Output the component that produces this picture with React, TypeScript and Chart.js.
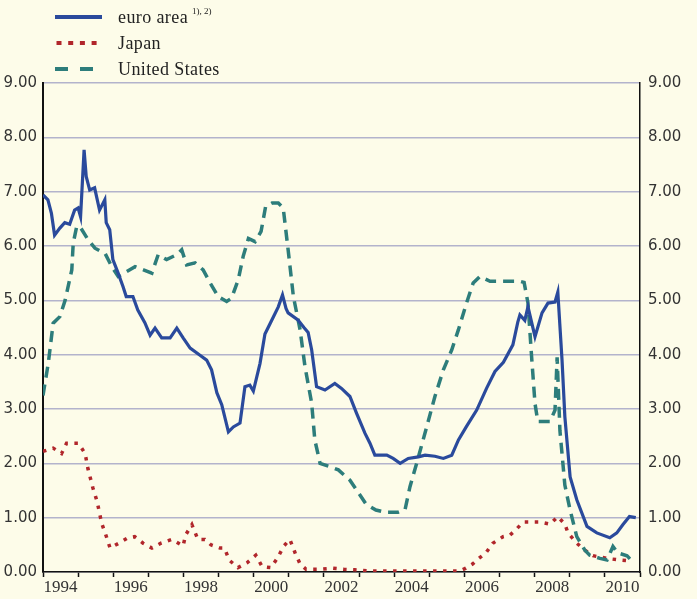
import React, { useEffect, useRef } from "react";
import { Chart, registerables } from "chart.js";

Chart.register(...registerables);

// ---- data (decimal years, percentages) ----
const euroYears = [
  1994.0, 1994.14, 1994.24, 1994.33, 1994.48, 1994.62, 1994.76, 1994.9, 1995.0, 1995.07,
  1995.17, 1995.23, 1995.33, 1995.47, 1995.61, 1995.76, 1995.8, 1995.9, 1995.99, 1996.14,
  1996.28, 1996.37, 1996.56, 1996.7, 1996.9, 1997.05, 1997.19, 1997.38, 1997.62, 1997.81,
  1997.99, 1998.19, 1998.47, 1998.66, 1998.8, 1998.95, 1999.09, 1999.28, 1999.42, 1999.61,
  1999.75, 1999.89, 1999.99, 2000.18, 2000.32, 2000.51, 2000.7, 2000.82, 2000.92, 2000.98,
  2001.26, 2001.43, 2001.55, 2001.65, 2001.79, 2002.03, 2002.31, 2002.5, 2002.74, 2002.93,
  2003.17, 2003.31, 2003.45, 2003.79, 2003.97, 2004.17, 2004.4, 2004.69, 2004.88, 2005.16,
  2005.4, 2005.64, 2005.83, 2006.06, 2006.35, 2006.63, 2006.87, 2007.11, 2007.38, 2007.52,
  2007.58, 2007.72, 2007.81, 2008.01, 2008.21, 2008.38, 2008.58, 2008.66, 2008.78, 2008.86,
  2009.01, 2009.2, 2009.49, 2009.77, 2010.14, 2010.34, 2010.51, 2010.7, 2010.88,
];
const euroValues = [
  6.94, 6.85, 6.6, 6.2, 6.33, 6.43, 6.4, 6.66, 6.7, 6.54,
  7.77, 7.28, 7.03, 7.07, 6.66, 6.85, 6.43, 6.3, 5.75, 5.5,
  5.25, 5.07, 5.07, 4.82, 4.59, 4.36, 4.49, 4.31, 4.31, 4.49,
  4.31, 4.12, 3.99, 3.9, 3.72, 3.3, 3.08, 2.58, 2.67, 2.74,
  3.41, 3.44, 3.33, 3.84, 4.38, 4.63, 4.88, 5.1, 4.85, 4.77,
  4.64, 4.5, 4.41, 4.09, 3.41, 3.35, 3.47, 3.38, 3.23, 2.92,
  2.55, 2.37, 2.15, 2.15, 2.09, 2.0, 2.09, 2.12, 2.15, 2.13,
  2.09, 2.15, 2.43, 2.68, 2.98, 3.38, 3.69, 3.86, 4.18, 4.6,
  4.73, 4.63, 4.88, 4.33, 4.77, 4.95, 4.97, 5.15, 3.9, 2.86,
  1.75, 1.33, 0.84, 0.72, 0.63, 0.72, 0.87, 1.02, 1.0,
];

const japanYears = [
  1994.0, 1994.29, 1994.53, 1994.67, 1995.01, 1995.2, 1995.28, 1995.42, 1995.54, 1995.67,
  1995.79, 1995.91, 1996.16, 1996.42, 1996.61, 1996.85, 1997.1, 1997.36, 1997.67, 1997.99,
  1998.06, 1998.24, 1998.41, 1998.61, 1998.78, 1999.04, 1999.17, 1999.3, 1999.55, 1999.81,
  2000.06, 2000.24, 2000.49, 2000.68, 2000.86, 2001.03, 2001.18, 2001.32, 2001.49, 2001.86,
  2002.26, 2002.57, 2002.88, 2003.31, 2004.17, 2005.02, 2005.87, 2006.04, 2006.24, 2006.41,
  2006.61, 2006.81, 2007.1, 2007.3, 2007.5, 2007.67, 2007.92, 2008.15, 2008.44, 2008.66,
  2008.86, 2008.95, 2009.2, 2009.43, 2009.66, 2010.06, 2010.43, 2010.77,
];
const japanValues = [
  2.22, 2.28, 2.18, 2.37, 2.37, 2.18, 1.9, 1.55, 1.3, 0.9,
  0.68, 0.44, 0.53, 0.63, 0.65, 0.53, 0.44, 0.53, 0.6, 0.48,
  0.68, 0.87, 0.6, 0.6, 0.5, 0.44, 0.44, 0.22, 0.08, 0.17,
  0.31, 0.1, 0.08, 0.26, 0.48, 0.6, 0.35, 0.15, 0.05, 0.05,
  0.07, 0.05, 0.04, 0.02, 0.02, 0.02, 0.02, 0.07, 0.15, 0.25,
  0.35, 0.53, 0.65, 0.68, 0.8, 0.92, 0.92, 0.92, 0.88, 1.02,
  0.88, 0.72, 0.53, 0.4, 0.3, 0.25, 0.22, 0.2,
];

const usYears = [
  1994.0, 1994.15, 1994.29, 1994.48, 1994.63, 1994.82, 1994.86, 1994.96, 1995.05, 1995.29,
  1995.48, 1995.77, 1995.96, 1996.14, 1996.38, 1996.62, 1996.86, 1997.1, 1997.28, 1997.52,
  1997.81, 1997.95, 1998.09, 1998.33, 1998.56, 1998.76, 1998.99, 1999.23, 1999.37, 1999.56,
  1999.7, 1999.85, 2000.04, 2000.21, 2000.34, 2000.52, 2000.7, 2000.84, 2000.98, 2001.13,
  2001.32, 2001.46, 2001.65, 2001.74, 2001.89, 2002.17, 2002.41, 2002.74, 2002.99, 2003.2,
  2003.48, 2003.74, 2004.11, 2004.31, 2004.45, 2004.64, 2004.93, 2005.16, 2005.4, 2005.64,
  2005.83, 2006.06, 2006.25, 2006.44, 2006.73, 2007.15, 2007.58, 2007.7, 2007.81, 2007.92,
  2008.01, 2008.09, 2008.44, 2008.58, 2008.64, 2008.72, 2008.86, 2009.01, 2009.2, 2009.43,
  2009.57, 2009.86, 2010.06, 2010.23, 2010.37, 2010.63, 2010.77,
];
const usValues = [
  3.25, 3.84, 4.58, 4.7, 5.0, 5.56, 6.05, 6.36, 6.36, 6.11,
  5.96, 5.86, 5.62, 5.44, 5.53, 5.62, 5.56, 5.5, 5.84, 5.75,
  5.84, 5.93, 5.65, 5.69, 5.56, 5.32, 5.07, 4.98, 5.04, 5.38,
  5.81, 6.14, 6.08, 6.27, 6.73, 6.79, 6.79, 6.7, 5.93, 5.07,
  4.46, 3.78, 3.11, 2.43, 2.0, 1.94, 1.88, 1.69, 1.45, 1.25,
  1.14, 1.1, 1.1, 1.15, 1.57, 2.0, 2.68, 3.23, 3.72, 4.09,
  4.46, 4.95, 5.32, 5.44, 5.35, 5.35, 5.35, 5.33, 4.95, 3.9,
  3.1, 2.77, 2.77, 2.98, 3.95, 2.6, 1.6, 1.14, 0.65, 0.4,
  0.31, 0.25, 0.22, 0.47, 0.35, 0.3, 0.2,
];

const xLabelYears = [1994, 1996, 1998, 2000, 2002, 2004, 2006, 2008, 2010];
const legendLabels = ["euro area", "Japan", "United States"];
const legendNote = "1), 2)";

const BLUE = "#2a4a9c";
const RED = "#b1262b";
const TEAL = "#2d7d7b";
const BG = "#fdfce9";
const GRID = "#b3b3cc";

function toPoints(xs: number[], ys: number[]) {
  return xs.map((x, i) => ({ x, y: ys[i] }));
}

const legendPlugin = {
  id: "customLegend",
  beforeDraw(chart: any) {
    const ctx = chart.ctx;
    ctx.save();
    ctx.fillStyle = BG;
    ctx.fillRect(0, 0, chart.width, chart.height);
    ctx.restore();
  },
  afterDraw(chart: any) {
    const ctx = chart.ctx;
    ctx.save();
    const rows = [17, 43, 69];
    ctx.lineCap = "butt";
    ctx.lineWidth = 4;
    ctx.strokeStyle = BLUE;
    ctx.setLineDash([]);
    ctx.beginPath();
    ctx.moveTo(55, rows[0]);
    ctx.lineTo(102, rows[0]);
    ctx.stroke();
    ctx.strokeStyle = RED;
    ctx.setLineDash([5, 6.7]);
    ctx.beginPath();
    ctx.moveTo(56.5, rows[1]);
    ctx.lineTo(98, rows[1]);
    ctx.stroke();
    ctx.strokeStyle = TEAL;
    ctx.setLineDash([13, 12]);
    ctx.beginPath();
    ctx.moveTo(55, rows[2]);
    ctx.lineTo(93, rows[2]);
    ctx.stroke();
    ctx.setLineDash([]);

    ctx.fillStyle = "#222";
    ctx.textBaseline = "middle";
    ctx.textAlign = "left";
    ctx.font = "18px 'Liberation Serif'";
    try {
      (ctx as any).letterSpacing = "0.4px";
    } catch (e) {}
    legendLabels.forEach((t, i) => {
      ctx.fillText(t, 118, rows[i] + 1);
    });
    const w = ctx.measureText(legendLabels[0]).width;
    try {
      (ctx as any).letterSpacing = "0px";
    } catch (e) {}
    ctx.font = "9px 'Liberation Serif'";
    ctx.fillText(legendNote, 118 + w + 4, rows[0] - 5);
    ctx.restore();
  },
};

export default function App() {
  const ref = useRef<HTMLCanvasElement | null>(null);

  useEffect(() => {
    if (!ref.current) return;
    const yTickFont = { family: "'DejaVu Sans'", size: 15 };
    const chart = new Chart(ref.current, {
      type: "line",
      data: {
        datasets: [
          {
            label: legendLabels[0],
            data: toPoints(euroYears, euroValues),
            borderColor: BLUE,
            borderWidth: 3.2,
            pointRadius: 0,
            tension: 0,
            fill: false,
          },
          {
            label: legendLabels[2],
            data: toPoints(usYears, usValues),
            borderColor: TEAL,
            borderWidth: 3.5,
            borderDash: [11, 7],
            pointRadius: 0,
            tension: 0,
            fill: false,
          },
          {
            label: legendLabels[1],
            data: toPoints(japanYears, japanValues),
            borderColor: RED,
            borderWidth: 3.5,
            borderDash: [3.5, 6.5],
            pointRadius: 0,
            tension: 0,
            fill: false,
          },
        ],
      },
      options: {
        animation: false,
        responsive: false,
        maintainAspectRatio: false,
        layout: { padding: { top: 83, left: 0, right: 0, bottom: 0 } },
        plugins: {
          legend: { display: false },
          tooltip: { enabled: false },
        },
        scales: {
          x: {
            type: "linear",
            min: 1994,
            max: 2011,
            afterFit: (s: any) => {
              s.height = 27;
            },
            ticks: {
              stepSize: 0.5,
              autoSkip: false,
              maxRotation: 0,
              padding: 0,
              color: "#333",
              font: { family: "'Liberation Serif'", size: 17 },
              callback: (v: any) => {
                const y = Math.round(Number(v) - 0.5);
                if (Math.abs(Number(v) - 0.5 - y) < 1e-6 && xLabelYears.includes(y)) return String(y);
                return "";
              },
            },
            grid: {
              drawOnChartArea: false,
              drawTicks: true,
              tickLength: 5,
              tickWidth: 1.5,
              tickColor: (c: any) =>
                c.tick && Number.isInteger(c.tick.value) ? "#111" : "rgba(0,0,0,0)",
            },
            border: { display: true, color: "#111", width: 1.5 },
          },
          y: {
            position: "left",
            min: 0,
            max: 9,
            afterFit: (s: any) => {
              s.width = 43;
            },
            ticks: {
              stepSize: 1,
              padding: 6,
              color: "#333",
              font: yTickFont,
              callback: (v: any) => Number(v).toFixed(2),
            },
            grid: { color: GRID, lineWidth: 1.5, drawTicks: false },
            border: { display: true, color: "#111", width: 2 },
          },
          y2: {
            position: "right",
            min: 0,
            max: 9,
            afterFit: (s: any) => {
              s.width = 57;
            },
            ticks: {
              stepSize: 1,
              padding: 8,
              color: "#333",
              font: yTickFont,
              callback: (v: any) => Number(v).toFixed(2),
            },
            grid: { drawOnChartArea: false, drawTicks: false },
            border: { display: true, color: "#111", width: 1.5 },
          },
        },
      } as any,
      plugins: [legendPlugin],
    });
    return () => chart.destroy();
  }, []);

  return (
    <div
      style={{
        position: "absolute",
        left: 0,
        top: 0,
        width: 697,
        height: 599,
        background: BG,
      }}
    >
      <canvas ref={ref} width={697} height={599} style={{ display: "block" }} />
    </div>
  );
}
